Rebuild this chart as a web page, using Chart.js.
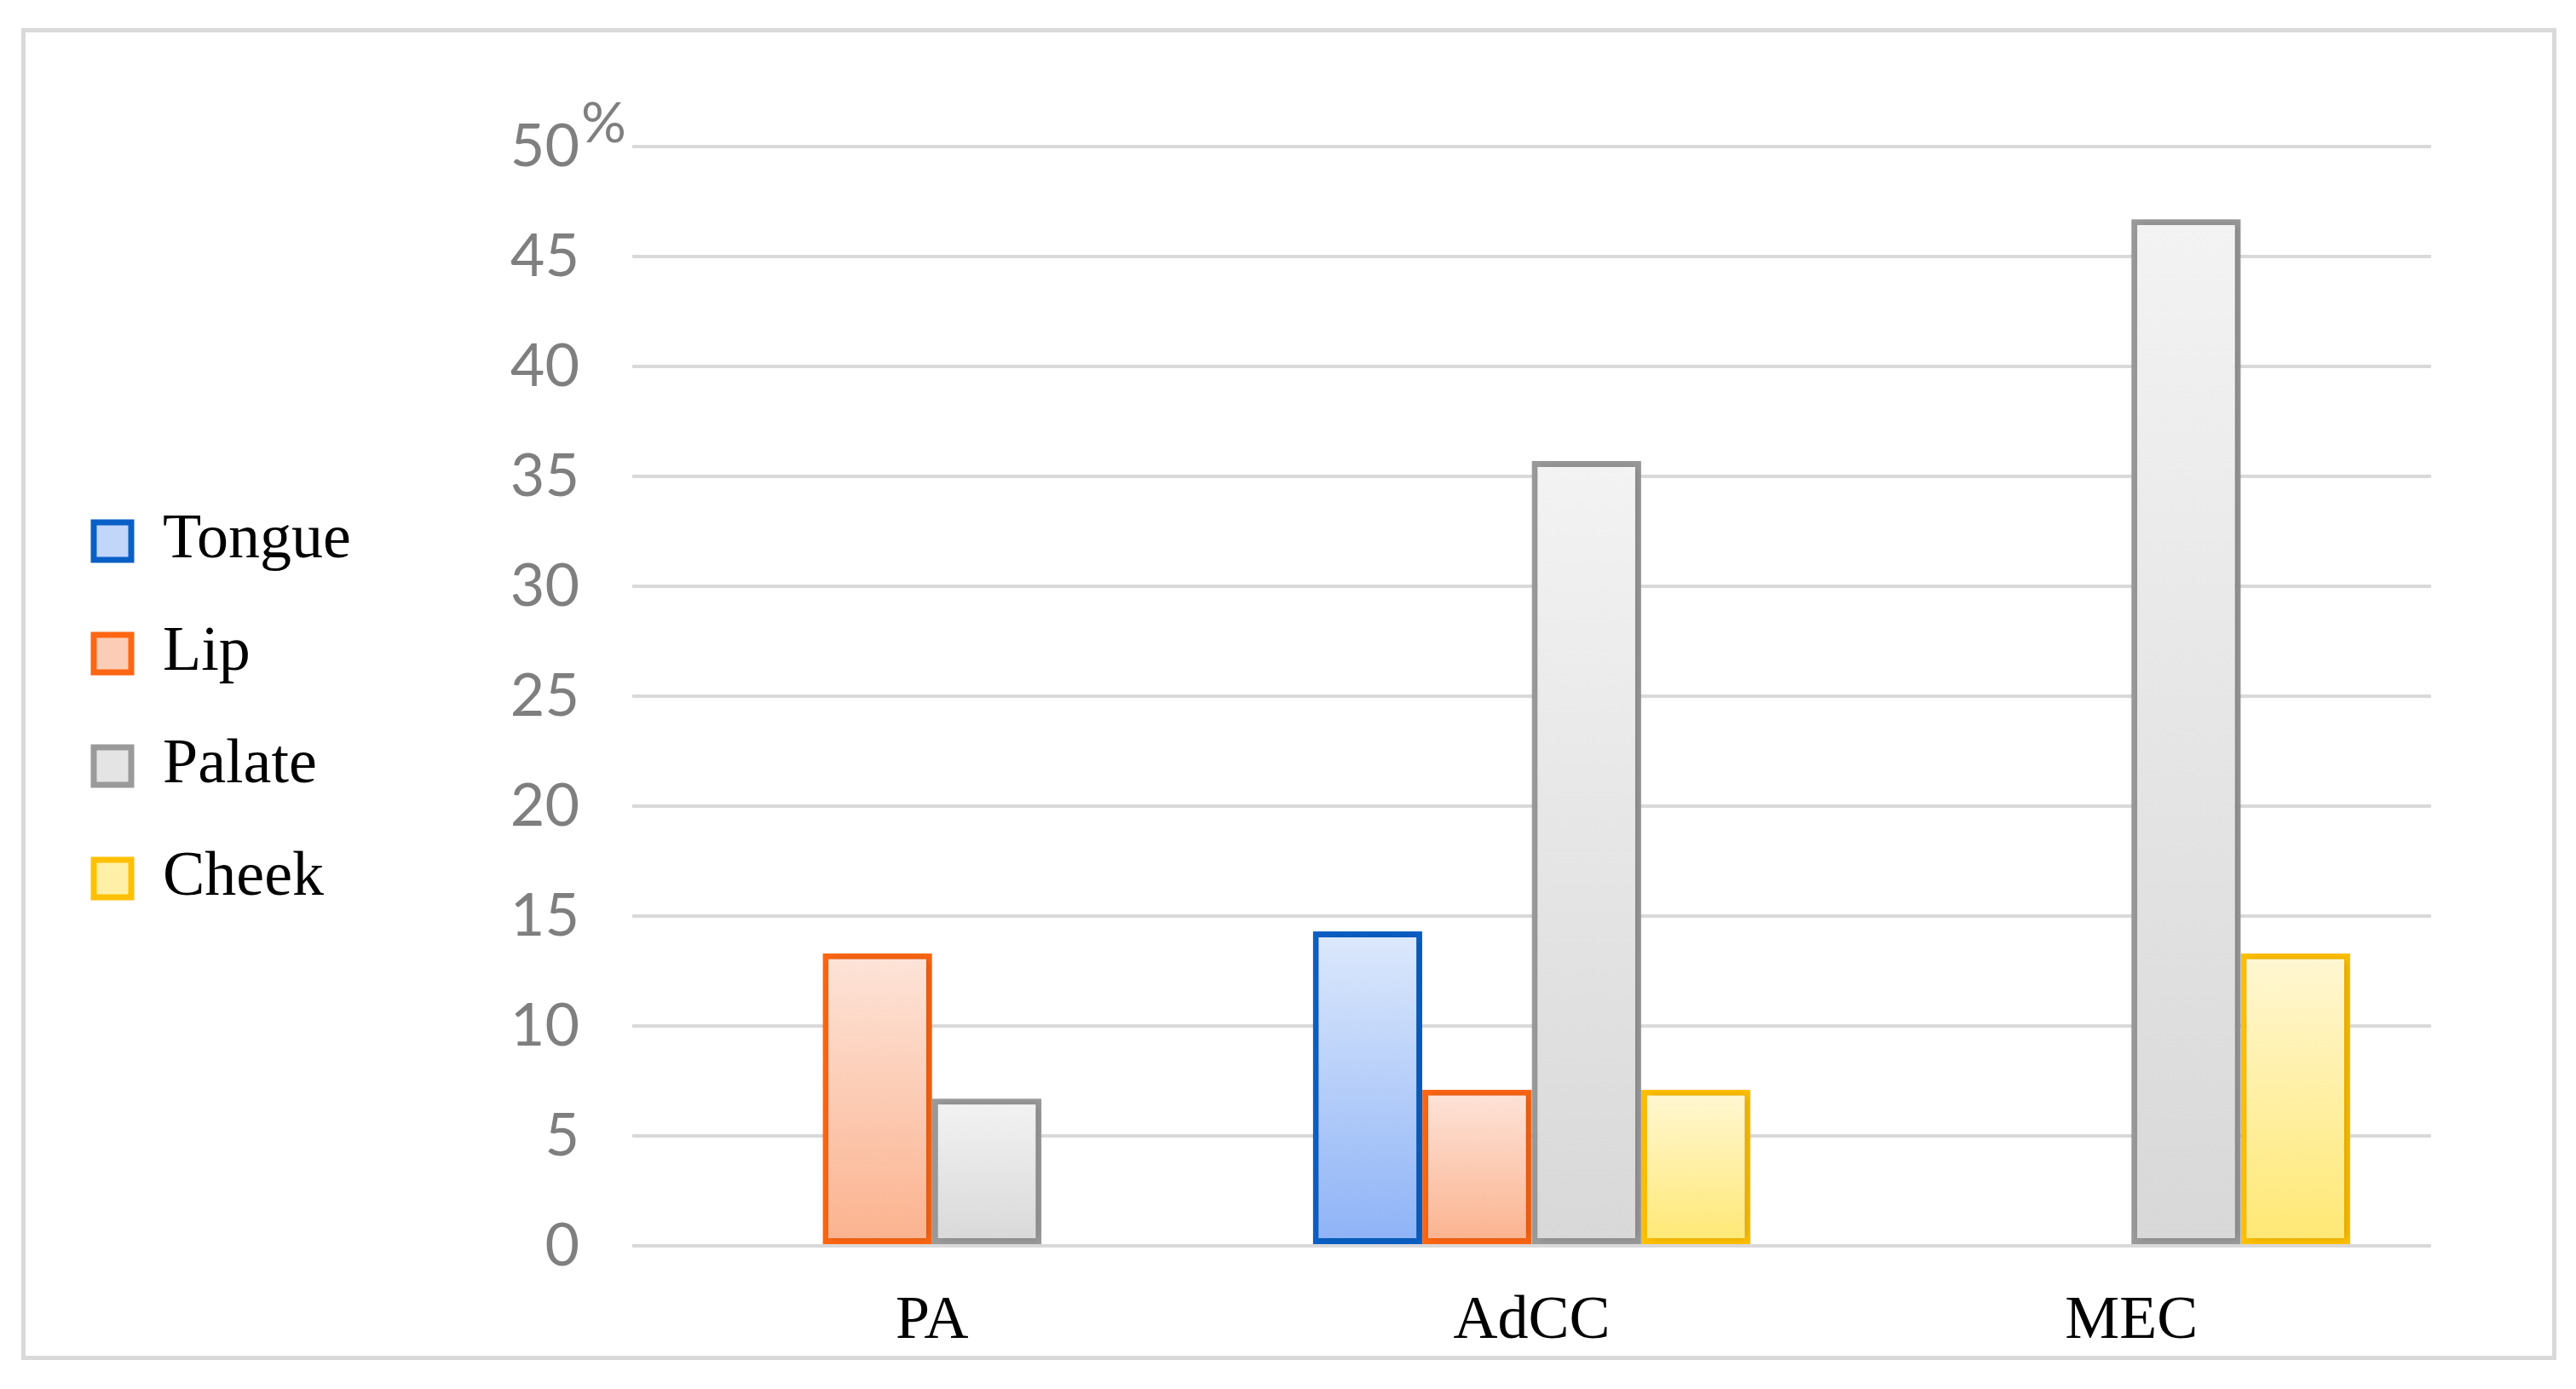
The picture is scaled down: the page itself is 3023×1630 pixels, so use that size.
<!DOCTYPE html>
<html>
<head>
<meta charset="utf-8">
<script src="https://cdn.jsdelivr.net/npm/chart.js@4"></script>
<style>
  html, body { margin: 0; padding: 0; background: #fff; }
  #frame {
    position: absolute; left: 25px; top: 33px;
    width: 2965px; height: 1553px;
    border: 5px solid #d9d9d9;
  }
</style>
</head>
<body>
<div id="frame"><canvas id="siteChart"></canvas></div>
<script>
// data (percent of cases)
const categories = ['PA', 'AdCC', 'MEC'];
const seriesNames = ['Tongue', 'Lip', 'Palate', 'Cheek'];
const tongue = [null, 14.3, null];
const lip = [13.3, 7.1, null];
const palate = [6.7, 35.7, 46.7];
const cheek = [null, 7.1, 13.3];
const yMax = 50;
const yStep = 5;

const borderColors = ['#0a60c6', '#fd6612', '#9a9a9a', '#ffc000'];
const topColors = ['#dde9fc', '#fde4d9', '#f3f3f3', '#fff7d4'];
const bottomColors = ['#8db2f6', '#fbb28e', '#d8d8d8', '#ffe873'];
const legendFill = ['#c2d6fa', '#fccdb6', '#e4e4e4', '#fff0a8'];

const CHART_LEFT = 712;
const PAD_LEFT = 22;

function barFill(i) {
  return function (c) {
    const chart = c.chart;
    if (!chart.chartArea || c.type !== 'data' || c.raw == null) return legendFill[i];
    const y = chart.scales.y;
    const top = y.getPixelForValue(c.raw);
    const base = y.getPixelForValue(0);
    const g = chart.ctx.createLinearGradient(0, top, 0, base);
    g.addColorStop(0, topColors[i]);
    g.addColorStop(1, bottomColors[i]);
    return g;
  };
}

const seriesData = [tongue, lip, palate, cheek];

const barShadow = {
  id: 'barShadow',
  beforeDatasetsDraw(chart) {
    const ctx = chart.ctx;
    ctx.save();
    ctx.shadowColor = 'rgba(0,0,0,0.16)';
    ctx.shadowBlur = 10;
    ctx.shadowOffsetX = 3;
    ctx.shadowOffsetY = 0;
  },
  afterDatasetsDraw(chart) {
    chart.ctx.restore();
  }
};

// nudge the legend column down a little
const legendNudge = {
  id: 'legendNudge',
  afterLayout(chart) {
    if (chart.legend) {
      chart.legend.top += 16;
      chart.legend.bottom += 16;
    }
  }
};

// the little "%" next to the top tick
const percentMark = {
  id: 'percentMark',
  afterDraw(chart) {
    const y = chart.scales.y;
    const ctx = chart.ctx;
    ctx.save();
    ctx.font = '66px Lato';
    ctx.fillStyle = '#7f7f7f';
    ctx.textAlign = 'left';
    ctx.textBaseline = 'middle';
    ctx.fillText('%', y.right - 62 + 2, y.getPixelForValue(yMax) - 26);
    ctx.restore();
  }
};

new Chart(document.getElementById('siteChart'), {
  type: 'bar',
  data: {
    labels: categories,
    datasets: seriesNames.map((name, i) => ({
      label: name,
      data: seriesData[i],
      backgroundColor: barFill(i),
      borderColor: borderColors[i],
      borderWidth: 7,
      borderSkipped: false,
      barPercentage: 1,
      categoryPercentage: 0.73
    }))
  },
  options: {
    responsive: true,
    maintainAspectRatio: false,
    animation: false,
    layout: {
      padding: { left: PAD_LEFT, top: 134, right: 142, bottom: 1 }
    },
    plugins: {
      tooltip: { enabled: false },
      legend: {
        position: 'left',
        fullSize: false,
        labels: {
          boxWidth: 44,
          boxHeight: 44,
          padding: 58,
          color: '#000',
          font: { family: 'Liberation Serif', size: 74 },
          generateLabels(chart) {
            return chart.data.datasets.map((ds, i) => ({
              text: ds.label,
              fillStyle: legendFill[i],
              strokeStyle: borderColors[i],
              lineWidth: 7,
              hidden: false,
              datasetIndex: i
            }));
          }
        }
      }
    },
    scales: {
      x: {
        grid: { display: false },
        border: { display: false },
        ticks: {
          padding: 38,
          color: '#000',
          font: { family: 'Liberation Serif', size: 72 }
        },
        afterFit(s) {
          s.height = 128;
        }
      },
      y: {
        min: 0,
        max: yMax,
        border: { display: false },
        grid: { color: '#d9d9d9', lineWidth: 4, drawTicks: false },
        ticks: {
          stepSize: yStep,
          padding: 62,
          color: '#7f7f7f',
          font: { family: 'Lato', size: 70 }
        },
        afterFit(s) {
          const lw = s.chart.legend ? s.chart.legend.width : 0;
          s.width = CHART_LEFT - PAD_LEFT - lw;
          s.paddingTop = 0;
          s.paddingBottom = 0;
        }
      }
    }
  },
  plugins: [barShadow, legendNudge, percentMark]
});
</script>
</body>
</html>
